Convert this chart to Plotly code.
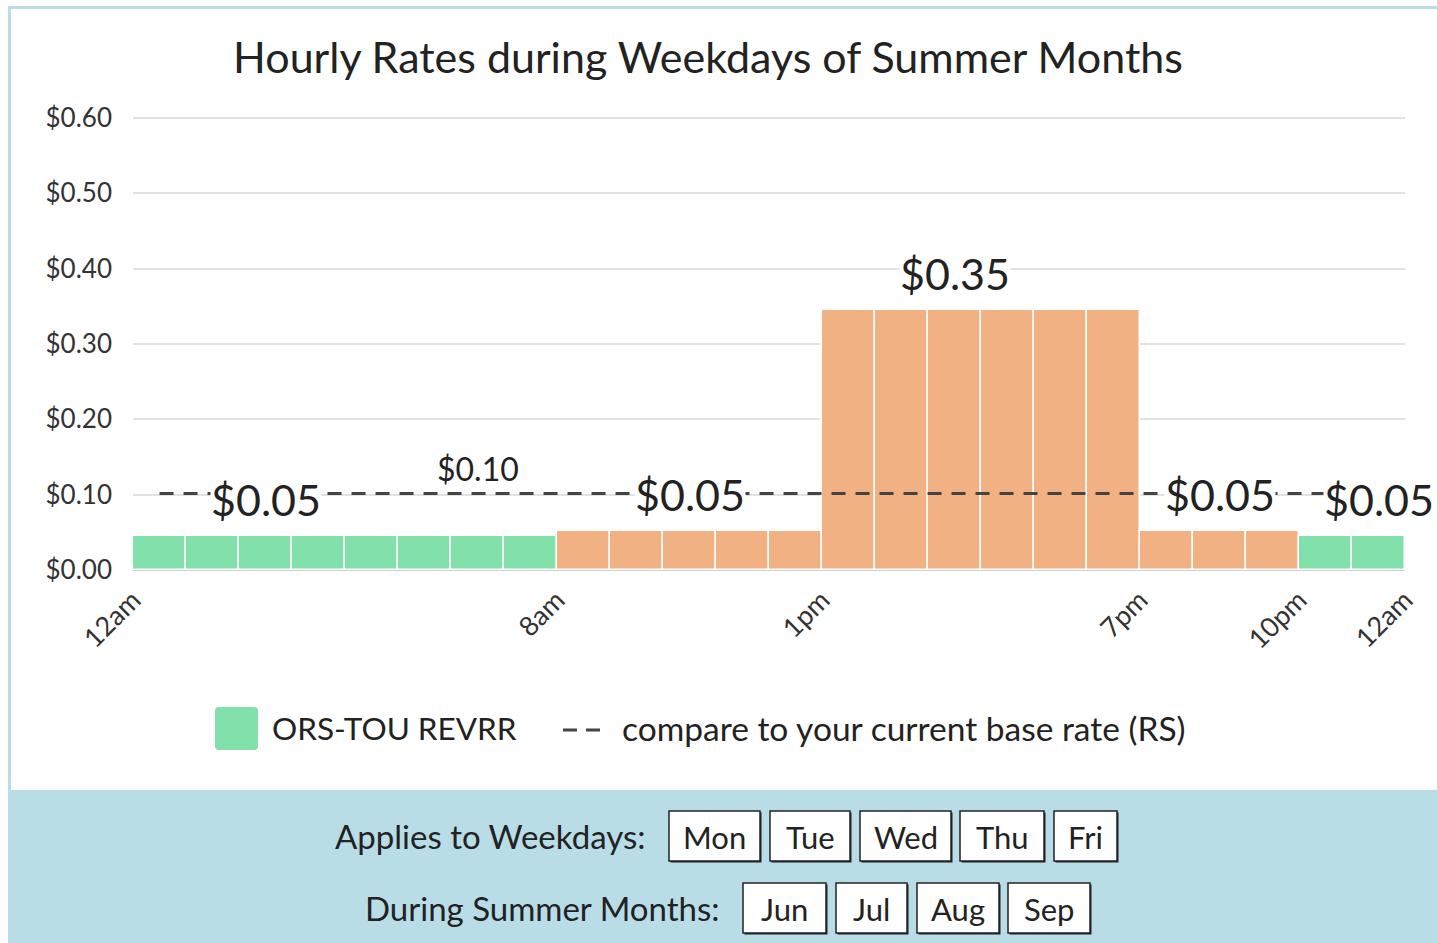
import plotly.graph_objects as go

# ---------------- data ----------------
hours = [0, 1, 2, 3, 4, 5, 6, 7, 8, 9, 10, 11, 12, 13, 14, 15, 16, 17, 18, 19, 20, 21, 22, 23]
tou_rates = [0.0453, 0.0453, 0.0453, 0.0453, 0.0453, 0.0453, 0.0453, 0.0453,
             0.0521, 0.0521, 0.0521, 0.0521, 0.0521,
             0.3455, 0.3455, 0.3455, 0.3455, 0.3455, 0.3455,
             0.0521, 0.0521, 0.0521,
             0.0453, 0.0453]
periods = ["off", "off", "off", "off", "off", "off", "off", "off",
           "mid", "mid", "mid", "mid", "mid",
           "on", "on", "on", "on", "on", "on",
           "mid", "mid", "mid",
           "off", "off"]
base_rates = [0.1017, 0.1017, 0.1017, 0.1017, 0.1017, 0.1017, 0.1017, 0.1017,
              0.1017, 0.1017, 0.1017, 0.1017, 0.1017, 0.1017, 0.1017, 0.1017,
              0.1017, 0.1017, 0.1017, 0.1017, 0.1017, 0.1017, 0.1017, 0.1017]
tick_hours = [0, 8, 13, 19, 22, 24]
tick_labels = ["12am", "8am", "1pm", "7pm", "10pm", "12am"]
y_ticks = [0.0, 0.1, 0.2, 0.3, 0.4, 0.5, 0.6]
label_hours = [2, 10, 15, 20, 23]      # bars that carry a rate label
base_label_hour = 6
weekdays = ["Mon", "Tue", "Wed", "Thu", "Fri"]
months = ["Jun", "Jul", "Aug", "Sep"]
tou_name = "ORS-TOU REVRR"
base_name = "compare to your current base rate (RS)"
title = "Hourly Rates during Weekdays of Summer Months"

# ---------------- style ----------------
W, H = 1437, 943
FONT = "Lato"
GREEN = "#82e0aa"
ORANGE = "#f2b183"
BLUE = "#b9dde7"
TXT = "#222222"
period_colors = {"off": GREEN, "mid": ORANGE, "on": ORANGE}


def px(x):
    return x / W


def py(y):
    return 1 - y / H


fig = go.Figure()

fig.add_trace(go.Bar(
    x=hours, y=tou_rates, width=1, offset=0,
    marker=dict(color=[period_colors[p] for p in periods],
                line=dict(color="white", width=1.5)),
    name=tou_name, showlegend=False, hoverinfo="y",
))

fig.add_trace(go.Scatter(
    x=[h + 0.5 for h in hours], y=base_rates, mode="lines",
    line=dict(color="#444444", width=3, dash="14px,10px"),
    name=base_name, showlegend=False,
))

annotations = []
for h in label_hours:
    annotations.append(dict(
        x=h + 0.5, y=tou_rates[h], xref="x", yref="y",
        text=f"${tou_rates[h]:.2f}", showarrow=False,
        yanchor="middle", yshift=36, bgcolor="white", borderpad=0,
        font=dict(family=FONT, size=43, color=TXT),
    ))
annotations.append(dict(
    x=base_label_hour + 0.5, y=base_rates[base_label_hour], xref="x", yref="y",
    text=f"${base_rates[base_label_hour]:.2f}", showarrow=False,
    yanchor="middle", yshift=25,
    font=dict(family=FONT, size=32, color=TXT),
))

# legend (drawn manually to match the large swatch)
annotations.append(dict(x=px(270), y=py(728), xref="paper", yref="paper",
                        text=tou_name, showarrow=False, xanchor="left", yanchor="middle",
                        font=dict(family=FONT, size=31.5, color=TXT)))
annotations.append(dict(x=px(620), y=py(728), xref="paper", yref="paper",
                        text=base_name, showarrow=False, xanchor="left", yanchor="middle",
                        font=dict(family=FONT, size=33.5, color=TXT)))

# bottom panel labels
annotations.append(dict(x=px(647), y=py(836), xref="paper", yref="paper",
                        text="Applies to Weekdays:", showarrow=False, xanchor="right", yanchor="middle",
                        font=dict(family=FONT, size=33, color=TXT)))
annotations.append(dict(x=px(721), y=py(908), xref="paper", yref="paper",
                        text="During Summer Months:", showarrow=False, xanchor="right", yanchor="middle",
                        font=dict(family=FONT, size=33, color=TXT)))

day_boxes = [(669, 760), (770, 850), (860, 951), (960, 1044), (1054, 1117)]
month_boxes = [(743, 826), (836, 907), (917, 999), (1008, 1090)]
shapes = []


def box(label, x0, x1, y0, y1):
    shapes.append(dict(type="rect", xref="paper", yref="paper",
                       x0=px(x0 + 1.5), x1=px(x1 + 1.5), y0=py(y1 + 1.5), y1=py(y0 + 1.5),
                       fillcolor=TXT, line=dict(width=0), layer="above"))
    shapes.append(dict(type="rect", xref="paper", yref="paper",
                       x0=px(x0), x1=px(x1), y0=py(y1), y1=py(y0),
                       fillcolor="white", line=dict(color=TXT, width=1.5), layer="above"))
    annotations.append(dict(x=px((x0 + x1) / 2), y=py((y0 + y1) / 2 + 1), xref="paper", yref="paper",
                            text=label, showarrow=False, xanchor="center", yanchor="middle",
                            font=dict(family=FONT, size=31, color=TXT)))


# background band and frame
shapes.append(dict(type="rect", xref="paper", yref="paper", x0=px(8), x1=1, y0=0, y1=py(790),
                   fillcolor=BLUE, line=dict(width=0), layer="below"))
shapes.append(dict(type="line", xref="paper", yref="paper", x0=px(9.5), x1=px(9.5), y0=py(6), y1=py(790),
                   line=dict(color=BLUE, width=3), layer="below"))
shapes.append(dict(type="line", xref="paper", yref="paper", x0=px(8), x1=1, y0=py(7.5), y1=py(7.5),
                   line=dict(color=BLUE, width=3), layer="below"))

for lab, (a, b) in zip(weekdays, day_boxes):
    box(lab, a, b, 811, 861)
for lab, (a, b) in zip(months, month_boxes):
    box(lab, a, b, 883, 933)

# legend swatch and dash sample
r = 4
x0, x1, y0, y1 = px(215), px(258), py(750), py(707)
rx, ry = r / W, r / H
path = (f"M{x0+rx},{y0} L{x1-rx},{y0} Q{x1},{y0} {x1},{y0+ry} L{x1},{y1-ry} Q{x1},{y1} {x1-rx},{y1} "
        f"L{x0+rx},{y1} Q{x0},{y1} {x0},{y1-ry} L{x0},{y0+ry} Q{x0},{y0} {x0+rx},{y0} Z")
shapes.append(dict(type="path", xref="paper", yref="paper", path=path,
                   fillcolor=GREEN, line=dict(width=0)))
shapes.append(dict(type="line", xref="paper", yref="paper", x0=px(563), x1=px(600), y0=py(730), y1=py(730),
                   line=dict(color="#444444", width=3, dash="14px,9px")))

fig.update_layout(
    width=W, height=H, autosize=False,
    margin=dict(l=0, r=0, t=0, b=0, autoexpand=False),
    paper_bgcolor="white", plot_bgcolor="white",
    bargap=0,
    showlegend=False,
    title=dict(text=title, x=px(708), y=py(58), xanchor="center", yanchor="middle",
               automargin=False,
               font=dict(family=FONT, size=43, color=TXT)),
    xaxis=dict(domain=[px(133), px(1405)], range=[0, 24], tickmode="array",
               tickvals=tick_hours, ticktext=tick_labels, tickangle=-45,
               showgrid=False, zeroline=False, showline=False, ticks="",
               ticklabelstandoff=8, automargin=False,
               tickfont=dict(family=FONT, size=27, color="#333333")),
    yaxis=dict(domain=[py(570), py(570 - 0.62 * 753.33)], range=[0, 0.62],
               tickmode="array", tickvals=y_ticks, ticktext=[f"${v:.2f}" for v in y_ticks],
               showgrid=True, gridcolor="#e2e2e2", gridwidth=1.5,
               zeroline=True, zerolinecolor="#d4d4d4", zerolinewidth=2,
               ticks="", ticklabelstandoff=20, automargin=False,
               tickfont=dict(family=FONT, size=26, color="#333333")),
    shapes=shapes, annotations=annotations,
)

fig.write_html("out.html", config={"displayModeBar": False},
               post_script="document.body.style.margin='0';document.body.style.overflow='hidden';")
